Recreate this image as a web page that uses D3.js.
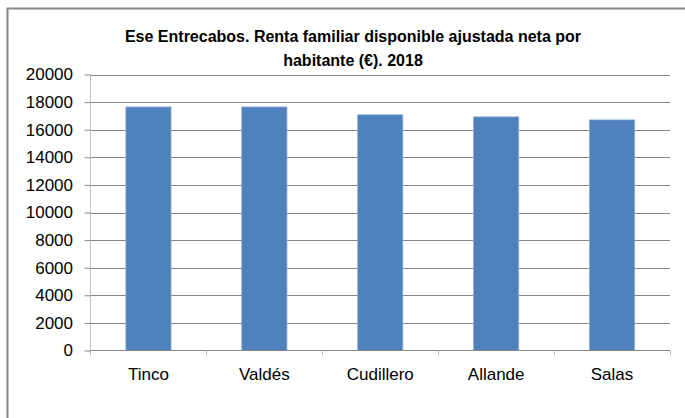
<!DOCTYPE html>
<html lang="es">
  <head>
    <meta charset="UTF-8" />
    <title>Ese Entrecabos. Renta familiar disponible</title>
    <script src="https://d3js.org/d3.v7.min.js"></script>
    <style>
      body {
        margin: 0;
        background: #fff;
        font-family: 'Liberation Sans', Arial, sans-serif;
      }
      .grid line {
        stroke: #868686;
        stroke-width: 1px;
      }
      .tick text {
        fill: #000;
      }
    </style>
  </head>
  <body>
    <div id="chart"></div>
    <script>
      // Data
      const municipios = ['Tinco', 'Valdés', 'Cudillero', 'Allande', 'Salas'];
      const renta = [17650, 17650, 17080, 16930, 16710];
      const yTicks = [0, 2000, 4000, 6000, 8000, 10000, 12000, 14000, 16000, 18000, 20000];
      const titleLines = [
        'Ese Entrecabos. Renta familiar disponible ajustada neta por',
        'habitante (€). 2018',
      ];

      const width = 685;
      const height = 418;
      const plot = { left: 90.5, right: 670, top: 74.5, bottom: 350.5 };

      const svg = d3
        .select('#chart')
        .append('svg')
        .attr('width', width)
        .attr('height', height);

      // Outer chart frame (runs off the right and bottom edges)
      svg
        .append('rect')
        .attr('x', 7.5)
        .attr('y', 8.5)
        .attr('width', 700)
        .attr('height', 430)
        .attr('fill', '#fff')
        .attr('stroke', '#868686')
        .attr('stroke-width', 2);

      // Title
      svg
        .append('text')
        .attr('text-anchor', 'middle')
        .style('font-weight', 'bold')
        .style('font-size', '16px')
        .selectAll('tspan')
        .data(titleLines)
        .join('tspan')
        .attr('x', 353)
        .attr('y', (d, i) => 42 + i * 24)
        .text((d) => d);

      const x = d3
        .scaleBand()
        .domain(municipios)
        .range([plot.left, plot.right])
        .paddingInner(0.61)
        .paddingOuter(0.305);

      const y = d3
        .scaleLinear()
        .domain([0, 20000])
        .range([plot.bottom, plot.top]);

      // Gridlines
      svg
        .append('g')
        .attr('class', 'grid')
        .selectAll('line')
        .data(yTicks.filter((d) => d > 0))
        .join('line')
        .attr('x1', plot.left)
        .attr('x2', plot.right)
        .attr('y1', (d) => Math.round(y(d)) + 0.5)
        .attr('y2', (d) => Math.round(y(d)) + 0.5);

      // Bars
      svg
        .append('g')
        .selectAll('rect')
        .data(renta)
        .join('rect')
        .attr('x', (d, i) => x(municipios[i]))
        .attr('width', x.bandwidth())
        .attr('y', (d) => y(d))
        .attr('height', (d) => y(0) - y(d))
        .attr('fill', '#4f81bd')
        .attr('stroke', '#8fb0d9')
        .attr('stroke-width', 0.8);

      // Y axis
      const yAxis = svg
        .append('g')
        .attr('transform', `translate(${plot.left},0)`)
        .call(
          d3
            .axisLeft(y)
            .tickValues(yTicks)
            .tickSize(6)
            .tickPadding(11.5)
            .tickFormat(d3.format('d'))
        );
      yAxis.select('.domain').attr('stroke', '#bfbfbf').attr('d', `M0,${plot.top}V${plot.bottom + 5}`);
      yAxis.selectAll('.tick line').attr('stroke', '#868686');
      yAxis.selectAll('.tick text').style('font-size', '17px');

      // X axis
      const xAxis = svg
        .append('g')
        .attr('transform', `translate(0,${plot.bottom})`)
        .call(d3.axisBottom(x).tickSize(0).tickPadding(17));
      xAxis.select('.domain').attr('stroke', '#868686').attr('d', `M${plot.left},0H${plot.right}`);
      xAxis.selectAll('.tick text').style('font-size', '17px');

      // Category separator ticks
      const bounds = municipios.map((m) => x(m) - (x.step() * x.paddingInner()) / 2);
      bounds.push(plot.right);
      xAxis
        .append('g')
        .selectAll('line')
        .data(bounds.slice(1))
        .join('line')
        .attr('x1', (d) => Math.round(d) + 0.5)
        .attr('x2', (d) => Math.round(d) + 0.5)
        .attr('y1', 0)
        .attr('y2', 5)
        .attr('stroke', '#bfbfbf');
    </script>
  </body>
</html>
